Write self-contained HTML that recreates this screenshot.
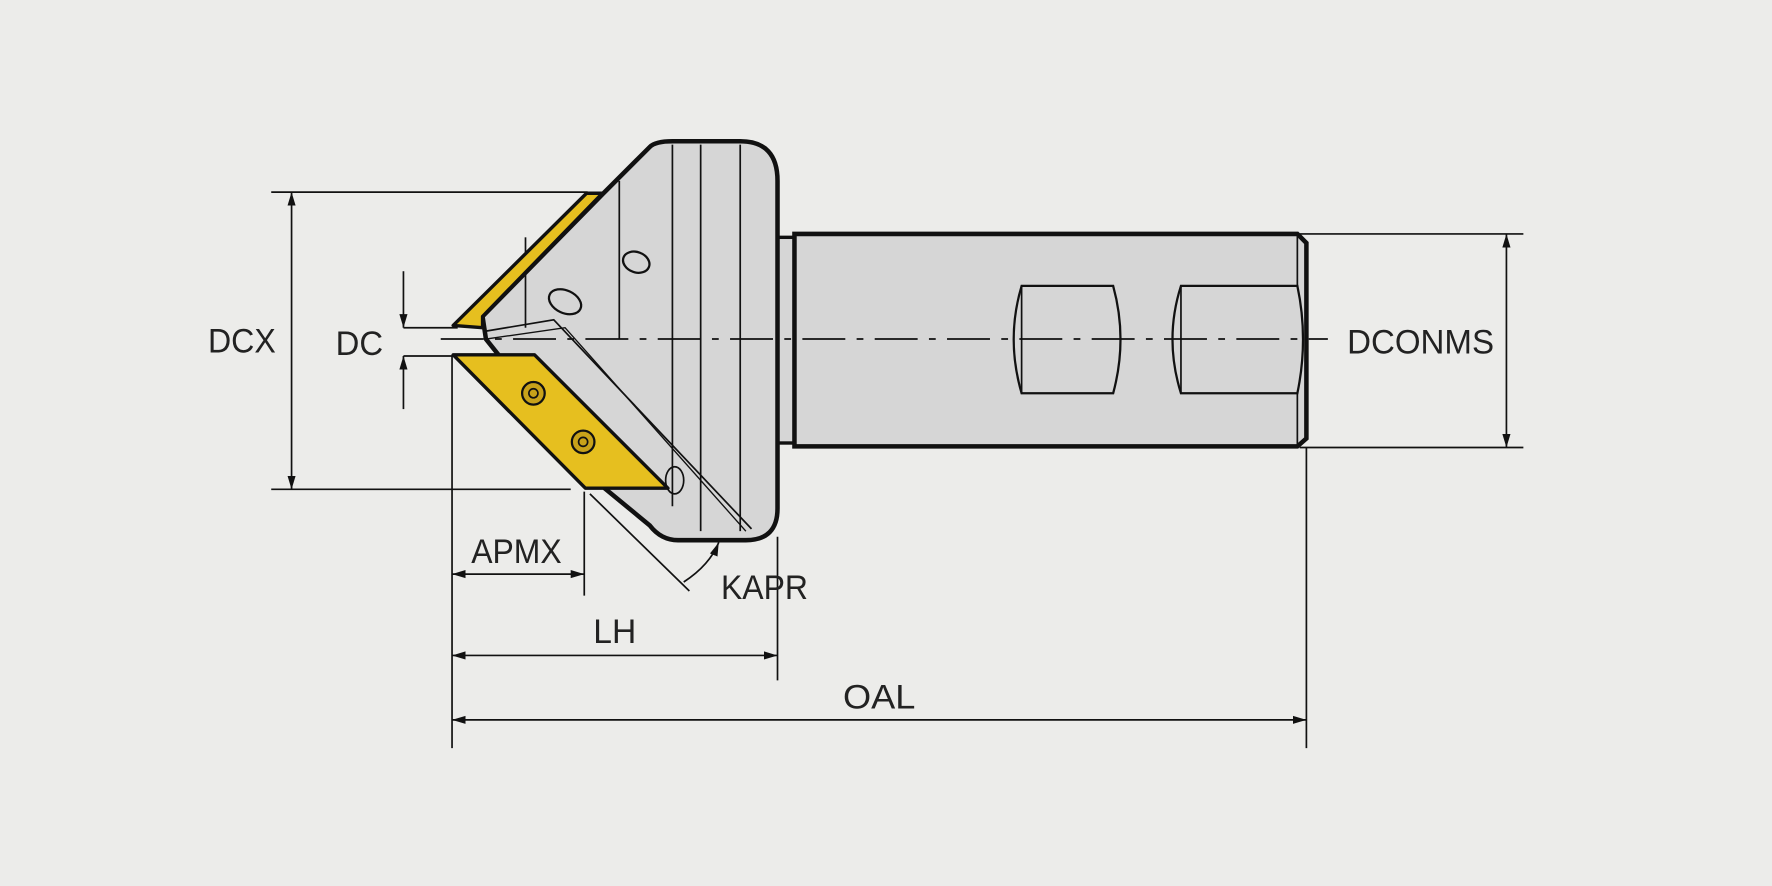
<!DOCTYPE html>
<html><head><meta charset="utf-8"><style>
html,body{margin:0;padding:0;background:#ececea;}
svg{display:block}
text{font-family:"Liberation Sans",sans-serif;font-size:30px;fill:#222;}
</style></head><body>
<svg width="1772" height="886" viewBox="0 0 1568 784" preserveAspectRatio="none" xmlns="http://www.w3.org/2000/svg">
<rect width="1568" height="784" fill="#ececea"/>
<defs>
<marker id="a" viewBox="0 0 10 10" refX="10" refY="5" markerWidth="12" markerHeight="12" markerUnits="userSpaceOnUse" orient="auto-start-reverse"><path d="M0,2 L10,5 L0,8 z" fill="#111"/></marker>
</defs>
<rect x="686" y="210" width="20" height="182" fill="#d6d6d6" stroke="#111" stroke-width="3"/>
<path d="M703,207 L1148,207 L1156,215 L1156,388 L1148,395 L703,395 Z" fill="#d6d6d6" stroke="#111" stroke-width="4"/>
<line x1="1148" y1="207" x2="1148" y2="395" stroke="#111" stroke-width="1.5"/>
<path d="M904,253 L985,253 Q998,300 985,348 L904,348 Q890,300 904,253 Z" fill="#d6d6d6" stroke="#111" stroke-width="2"/>
<line x1="904" y1="253" x2="904" y2="348" stroke="#111" stroke-width="1.5"/>
<path d="M1045,253 L1148,253 Q1158,300 1148,348 L1045,348 Q1030,300 1045,253 Z" fill="#d6d6d6" stroke="#111" stroke-width="2"/>
<line x1="1045" y1="253" x2="1045" y2="348" stroke="#111" stroke-width="1.5"/>
<path d="M533,172 L575,130 Q580,125 595,125 L655,125 Q688,125 688,160 L688,450 Q688,478 660,478 L600,478 Q585,478 575,465 L535,432 L430,300 L427,280 Z" fill="#d6d6d6" stroke="#111" stroke-width="4" stroke-linejoin="round"/>
<line x1="548" y1="160" x2="548" y2="300" stroke="#111" stroke-width="1.5"/>
<line x1="595" y1="128" x2="595" y2="448" stroke="#111" stroke-width="1.5"/>
<line x1="620" y1="128" x2="620" y2="470" stroke="#111" stroke-width="1.5"/>
<line x1="655" y1="128" x2="655" y2="470" stroke="#111" stroke-width="1.5"/>
<line x1="465" y1="210" x2="465" y2="290" stroke="#111" stroke-width="1.5"/>
<path d="M430,293 L490,283 L665,468" fill="none" stroke="#111" stroke-width="1.5"/>
<path d="M430,300 L500,290 L660,470" fill="none" stroke="#111" stroke-width="1.2"/>
<ellipse cx="563" cy="232" rx="12" ry="9" transform="rotate(20 563 232)" fill="none" stroke="#111" stroke-width="2"/>
<ellipse cx="500" cy="267" rx="15" ry="10" transform="rotate(25 500 267)" fill="none" stroke="#111" stroke-width="2"/>
<ellipse cx="597" cy="425" rx="8" ry="12" fill="none" stroke="#111" stroke-width="1.5"/>
<path d="M401,288 L427,290 L427,280 L533,171 L519,171 Z" fill="#e6bf1f" stroke="#111" stroke-width="3" stroke-linejoin="round"/>
<path d="M401,314 L473,314 L591,432 L518,432 Z" fill="#e6bf1f" stroke="#111" stroke-width="3" stroke-linejoin="round"/>
<circle cx="472" cy="348" r="10" fill="#c8a21a" stroke="#111" stroke-width="2"/>
<circle cx="472" cy="348" r="4" fill="none" stroke="#111" stroke-width="1.5"/>
<circle cx="516" cy="391" r="10" fill="#c8a21a" stroke="#111" stroke-width="2"/>
<circle cx="516" cy="391" r="4" fill="none" stroke="#111" stroke-width="1.5"/>
<line x1="390" y1="300" x2="1175" y2="300" stroke="#111" stroke-width="1.5" stroke-dasharray="38,10,6,10"/>
<g stroke="#111" stroke-width="1.5" fill="none">
<line x1="240" y1="170" x2="520" y2="170"/>
<line x1="240" y1="433" x2="505" y2="433"/>
<line x1="258" y1="170" x2="258" y2="433" marker-start="url(#a)" marker-end="url(#a)"/>
<line x1="357" y1="290" x2="405" y2="290"/>
<line x1="357" y1="315" x2="400" y2="315"/>
<line x1="357" y1="240" x2="357" y2="290" marker-end="url(#a)"/>
<line x1="357" y1="362" x2="357" y2="315" marker-end="url(#a)"/>
<line x1="1150" y1="207" x2="1348" y2="207"/>
<line x1="1150" y1="396" x2="1348" y2="396"/>
<line x1="1333" y1="207" x2="1333" y2="396" marker-start="url(#a)" marker-end="url(#a)"/>
<line x1="400" y1="315" x2="400" y2="662"/>
<line x1="517" y1="435" x2="517" y2="527"/>
<line x1="400" y1="508" x2="517" y2="508" marker-start="url(#a)" marker-end="url(#a)"/>
<line x1="688" y1="475" x2="688" y2="602"/>
<line x1="400" y1="580" x2="688" y2="580" marker-start="url(#a)" marker-end="url(#a)"/>
<line x1="1156" y1="396" x2="1156" y2="662"/>
<line x1="400" y1="637" x2="1156" y2="637" marker-start="url(#a)" marker-end="url(#a)"/>
<line x1="522" y1="437" x2="610" y2="523"/>
<path d="M605,515 Q628,500 636,480" marker-end="url(#a)"/>
</g>
<text x="184" y="312" textLength="60" lengthAdjust="spacingAndGlyphs">DCX</text>
<text x="297" y="314" textLength="42" lengthAdjust="spacingAndGlyphs">DC</text>
<text x="1192" y="313" textLength="130" lengthAdjust="spacingAndGlyphs">DCONMS</text>
<text x="417" y="498" textLength="80" lengthAdjust="spacingAndGlyphs">APMX</text>
<text x="638" y="530" textLength="77" lengthAdjust="spacingAndGlyphs">KAPR</text>
<text x="525" y="569" textLength="38" lengthAdjust="spacingAndGlyphs">LH</text>
<text x="746" y="627" textLength="64" lengthAdjust="spacingAndGlyphs">OAL</text>
</svg>
</body></html>
